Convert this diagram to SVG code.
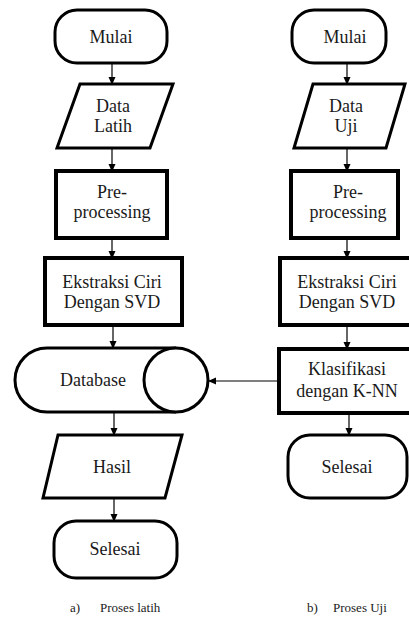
<svg xmlns="http://www.w3.org/2000/svg" width="409" height="620" viewBox="0 0 409 620">
<defs>
<marker id="ah" markerWidth="8" markerHeight="8" refX="7" refY="4" orient="auto" markerUnits="userSpaceOnUse">
<path d="M0,0.5 L8,4 L0,7.5 Z" fill="#000"/>
</marker>
<style>
.s{fill:#fff;stroke:#000;stroke-width:3}
.b{fill:#fff;stroke:#000;stroke-width:4}
.t{font-family:'Liberation Serif','Times New Roman',Tinos,'Noto Serif','FreeSerif',Times,serif;font-size:18px;fill:#1a1a1a;text-anchor:middle}
.c{font-family:'Liberation Serif','Times New Roman',Tinos,'Noto Serif','FreeSerif',Times,serif;font-size:13px;fill:#1a1a1a}
.a{stroke:#000;stroke-width:1.2;fill:none;marker-end:url(#ah)}
</style>
</defs>
<rect width="409" height="620" fill="#fff"/>
<g id="connectors">
<line class="a" x1="112" y1="63" x2="112" y2="84"/>
<line class="a" x1="112" y1="148" x2="112" y2="171"/>
<line class="a" x1="112" y1="238" x2="112" y2="258"/>
<line class="a" x1="113" y1="325" x2="113" y2="348"/>
<line class="a" x1="114" y1="412" x2="114" y2="435"/>
<line class="a" x1="114" y1="498" x2="114" y2="521"/>
<line class="a" x1="347" y1="63" x2="347" y2="84"/>
<line class="a" x1="347" y1="148" x2="347" y2="171"/>
<line class="a" x1="347" y1="238" x2="347" y2="258"/>
<line class="a" x1="347" y1="325" x2="347" y2="349"/>
<line class="a" x1="349" y1="413" x2="349" y2="435"/>
<line class="a" x1="279" y1="381" x2="209" y2="381"/>
</g>
<g id="mulai-a"><rect class="s" x="55" y="10" width="112" height="53" rx="22"/><text class="t" x="111" y="43">Mulai</text></g>
<g id="data-latih"><polygon class="s" points="80,84 173,84 150,148 57,148"/><text class="t" x="113" y="112">Data</text><text class="t" x="113" y="132">Latih</text></g>
<g id="pre-a"><rect class="b" x="56" y="171" width="111" height="67"/><text class="t" x="112" y="198">Pre-</text><text class="t" x="112" y="218">processing</text></g>
<g id="eks-a"><rect class="b" x="45" y="258" width="137" height="67"/><text class="t" x="112" y="288">Ekstraksi Ciri</text><text class="t" x="112" y="308">Dengan SVD</text></g>
<g id="database"><path class="s" d="M176,348 H47 A32,32 0 0 0 47,412 H176"/><circle class="s" cx="176" cy="380" r="32"/><text class="t" x="93" y="386">Database</text></g>
<g id="hasil"><polygon class="s" points="58,435 182,435 165,498 43,498"/><text class="t" x="112" y="473">Hasil</text></g>
<g id="selesai-a"><rect class="s" x="54" y="521" width="123" height="57" rx="22"/><text class="t" x="115" y="555">Selesai</text></g>
<g id="mulai-b"><rect class="s" x="292" y="10" width="94" height="53" rx="22"/><text class="t" x="345" y="43">Mulai</text></g>
<g id="data-uji"><polygon class="s" points="313,84 405,84 386,148 294,148"/><text class="t" x="346" y="112">Data</text><text class="t" x="346" y="132">Uji</text></g>
<g id="pre-b"><rect class="b" x="291" y="171" width="107" height="67"/><text class="t" x="348" y="198">Pre-</text><text class="t" x="348" y="218">processing</text></g>
<g id="eks-b"><rect class="b" x="280" y="258" width="140" height="67"/><text class="t" x="347" y="288">Ekstraksi Ciri</text><text class="t" x="347" y="308">Dengan SVD</text></g>
<g id="klasifikasi"><rect class="b" x="279" y="349" width="140" height="64"/><text class="t" x="347" y="375">Klasifikasi</text><text class="t" x="347" y="397">dengan K-NN</text></g>
<g id="selesai-b"><rect class="s" x="288" y="435" width="119" height="63" rx="22"/><text class="t" x="347" y="473">Selesai</text></g>
<g id="captions"><text class="c" x="70" y="612">a)</text><text class="c" x="100" y="612">Proses latih</text><text class="c" x="307" y="612">b)</text><text class="c" x="333" y="612">Proses Uji</text></g>
</svg>
